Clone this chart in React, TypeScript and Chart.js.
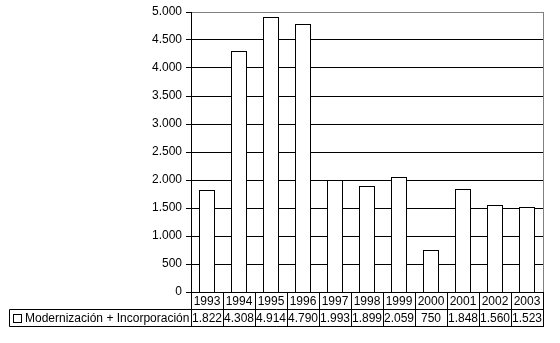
import React, { useEffect, useRef } from "react";
import { Chart, registerables } from "chart.js";

Chart.register(...registerables);

const years = ["1993", "1994", "1995", "1996", "1997", "1998", "1999", "2000", "2001", "2002", "2003"];
const values = [1822, 4308, 4914, 4790, 1993, 1899, 2059, 750, 1848, 1560, 1523];
const seriesName = "Modernización + Incorporación";
const yMax = 5000;
const yStep = 500;

const FONT = "'Liberation Sans', Arial, sans-serif";

function fmt(v: number): string {
  return String(v).replace(/\B(?=(\d{3})+(?!\d))/g, ".");
}

// snap bar geometry (computed by the library) to whole pixels for crisp 1px borders
const crispBars = {
  id: "crispBars",
  beforeDatasetDraw(chart: any, args: any) {
    const meta = args.meta;
    meta.data.forEach((el: any) => {
      const w = Math.round(el.width);
      const left = Math.round(el.x - el.width / 2);
      el.width = w;
      el.x = left + w / 2;
      el.y = Math.round(el.y);
      el.base = Math.round(chart.chartArea.bottom) + 1;
    });
  },
};

const tablePlugin = {
  id: "dataTable",
  afterDraw(chart: any) {
    const ctx = chart.ctx as CanvasRenderingContext2D;
    const area = chart.chartArea;
    const n = years.length;
    const w = (area.right - area.left) / n;
    const row1Top = area.bottom;
    const row1Bottom = area.bottom + 17;
    const row2Bottom = row1Bottom + 17;
    const tableLeft = 9;
    ctx.save();
    ctx.lineWidth = 1;
    ctx.strokeStyle = "#808080";
    ctx.beginPath();
    ctx.moveTo(Math.round(area.right) + 0.5, area.top);
    ctx.lineTo(Math.round(area.right) + 0.5, area.bottom);
    ctx.stroke();

    ctx.strokeStyle = "#000";
    ctx.beginPath();
    for (let i = 0; i <= n; i++) {
      const x = Math.round(area.left + i * w) + 0.5;
      ctx.moveTo(x, row1Top);
      ctx.lineTo(x, row2Bottom + 0.5);
    }
    ctx.moveTo(tableLeft + 0.5, Math.round(row1Bottom) + 0.5);
    ctx.lineTo(Math.round(area.right) + 1, Math.round(row1Bottom) + 0.5);
    ctx.moveTo(tableLeft + 0.5, Math.round(row2Bottom) + 0.5);
    ctx.lineTo(Math.round(area.right) + 1, Math.round(row2Bottom) + 0.5);
    ctx.moveTo(tableLeft + 0.5, Math.round(row1Bottom) + 0.5);
    ctx.lineTo(tableLeft + 0.5, Math.round(row2Bottom) + 0.5);
    ctx.stroke();

    ctx.fillStyle = "#000";
    ctx.font = `12px ${FONT}`;
    ctx.textBaseline = "middle";
    ctx.textAlign = "center";
    const y1 = (row1Top + row1Bottom) / 2 + 1;
    const y2 = (row1Bottom + row2Bottom) / 2 + 1;
    for (let i = 0; i < n; i++) {
      const cx = area.left + (i + 0.5) * w;
      ctx.fillText(years[i], cx, y1);
      ctx.fillText(fmt(values[i]), cx, y2);
    }
    ctx.fillStyle = "#fff";
    ctx.fillRect(13.5, Math.round(y2) - 4.5, 8, 8);
    ctx.strokeRect(13.5, Math.round(y2) - 4.5, 8, 8);
    ctx.fillStyle = "#000";
    ctx.textAlign = "left";
    ctx.fillText(seriesName, 25, y2);
    ctx.restore();
  },
};

export default function App() {
  const ref = useRef<HTMLCanvasElement | null>(null);
  useEffect(() => {
    if (!ref.current) return;
    const chart = new Chart(ref.current, {
      type: "bar",
      data: {
        labels: years,
        datasets: [
          {
            label: seriesName,
            data: values,
            backgroundColor: "#ffffff",
            borderColor: "#000000",
            borderWidth: 1,
            borderSkipped: false,
            barPercentage: 0.5,
            categoryPercentage: 1,
          },
        ],
      },
      options: {
        responsive: false,
        animation: false,
        layout: { padding: { left: 0, top: 12, right: 17, bottom: 51 } },
        plugins: { legend: { display: false }, tooltip: { enabled: false } },
        scales: {
          x: { display: false, offset: true },
          y: {
            min: 0,
            max: yMax,
            afterFit: (scale: any) => {
              scale.width = 191;
            },
            ticks: {
              stepSize: yStep,
              color: "#000",
              padding: 4,
              font: { family: FONT, size: 12 },
              callback: (v: any) => fmt(Number(v)),
            },
            grid: {
              color: (c: any) => (c.tick && c.tick.value === yMax ? "#808080" : "#000"),
              tickColor: "#000",
              tickLength: 5,
              lineWidth: 1,
            },
            border: { display: true, color: "#000", width: 1 },
          },
        },
      },
      plugins: [crispBars, tablePlugin],
    });
    return () => chart.destroy();
  }, []);
  return (
    <div style={{ position: "absolute", left: 0, top: 0, width: 560, height: 343, background: "#fff" }}>
      <canvas ref={ref} width={560} height={343} style={{ display: "block" }} />
    </div>
  );
}
